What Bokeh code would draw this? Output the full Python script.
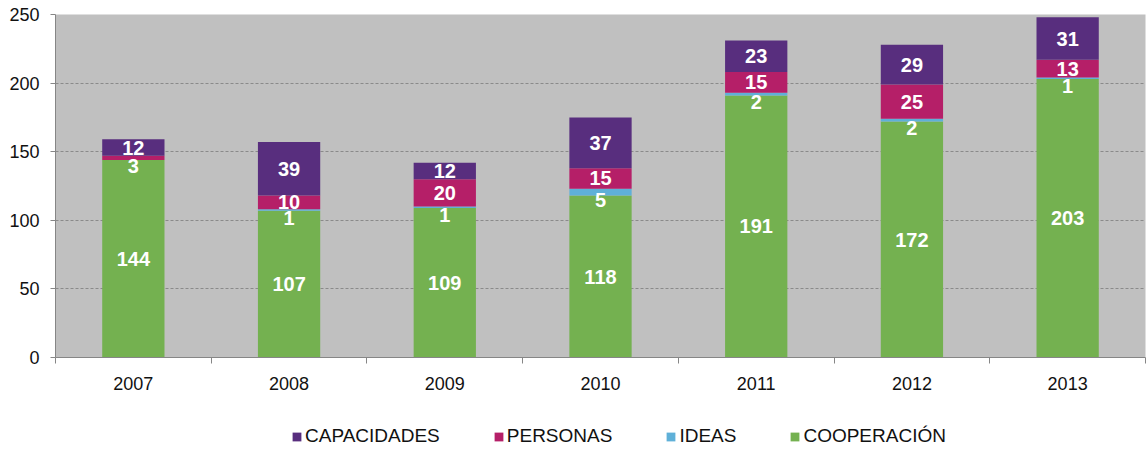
from bokeh.plotting import figure
from bokeh.layouts import column
from bokeh.models import ColumnDataSource, FixedTicker, Legend, LegendItem
from bokeh.core.properties import value
from bokeh.embed import file_html
from bokeh.resources import INLINE

years = ["2007", "2008", "2009", "2010", "2011", "2012", "2013"]
cooperacion = [144, 107, 109, 118, 191, 172, 203]
ideas = [0, 1, 1, 5, 2, 2, 1]
personas = [3, 10, 20, 15, 15, 25, 13]
capacidades = [12, 39, 12, 37, 23, 29, 31]
series_names = ["COOPERACIÓN", "IDEAS", "PERSONAS", "CAPACIDADES"]
series_keys = ["coop", "ideas", "pers", "cap"]
colors = ["#74b150", "#5fb0d8", "#b51f68", "#582e7e"]
y_ticks = [0, 50, 100, 150, 200, 250]

FONT = "Liberation Sans"
xs = list(range(len(years)))

src = ColumnDataSource(dict(x=xs, coop=cooperacion, ideas=ideas, pers=personas, cap=capacidades))

p = figure(width=1147, height=400, x_range=(-0.5, len(years) - 0.5), y_range=(0, 250),
           output_backend="svg", toolbar_location=None,
           min_border_left=55, min_border_right=2, min_border_top=14, min_border_bottom=43)
p.background_fill_color = "#c0c0c0"
p.border_fill_color = "white"
p.outline_line_color = None

renderers = p.vbar_stack(series_keys, x="x", width=0.4, source=src, color=colors, line_color=None)

# data labels
all_vals = [cooperacion, ideas, personas, capacidades]
big = dict(x=[], y=[], t=[])
small = dict(x=[], y=[], t=[])
for i in xs:
    base = 0
    for vals in all_vals:
        v = vals[i]
        if v > 0:
            d = big if v > 5 else small
            d["x"].append(i)
            d["y"].append(base + v / 2)
            d["t"].append(str(v))
        base += v
for d, off in ((big, 0), (small, 8)):
    p.text(x="x", y="y", text="t", source=ColumnDataSource(d), text_color="white",
           text_font=value(FONT), text_font_style="bold", text_font_size="20px",
           text_align="center", text_baseline="middle", y_offset=off)

# axes
p.xgrid.visible = False
p.ygrid.grid_line_color = "#8a8a8a"
p.ygrid.grid_line_dash = "3 2"
p.ygrid.grid_line_width = 1

ya = p.yaxis[0]
ya.ticker = FixedTicker(ticks=y_ticks)
ya.major_tick_in = 0
ya.major_tick_out = 5
ya.minor_tick_out = 0
ya.minor_tick_in = 0
ya.axis_line_color = "#868686"
ya.major_tick_line_color = "#868686"
ya.major_label_text_font = FONT
ya.major_label_text_font_size = "18px"
ya.major_label_text_color = "#111111"
ya.major_label_standoff = 11

xa = p.xaxis[0]
xa.ticker = FixedTicker(ticks=xs, minor_ticks=[i - 0.5 for i in range(len(years) + 1)])
xa.major_label_overrides = {i: years[i] for i in xs}
xa.major_tick_in = 0
xa.major_tick_out = 0
xa.minor_tick_in = 0
xa.minor_tick_out = 6
xa.minor_tick_line_color = "#868686"
xa.axis_line_color = "#868686"
xa.major_label_text_font = FONT
xa.major_label_text_font_size = "18px"
xa.major_label_text_color = "#111111"
xa.major_label_standoff = 13

# legend strip (separate figure under the chart, frames aligned with the chart)
lg = figure(width=1147, height=49, x_range=(0, 1), y_range=(0, 1),
            output_backend="svg", toolbar_location=None,
            x_axis_type=None, y_axis_type=None, min_border=0)
lg.outline_line_color = None
lg.background_fill_color = "white"
nan = float("nan")
lg_rends = [lg.vbar(x=[nan], top=[nan], width=0.1, color=c, line_color=None) for c in colors]

items = [LegendItem(label=series_names[k], renderers=[lg_rends[k]]) for k in (3, 2, 1, 0)]
legend = Legend(items=items, orientation="horizontal", location=(236, 2),
                glyph_width=11, glyph_height=11, label_standoff=3, spacing=53,
                padding=0, margin=0, background_fill_alpha=0, border_line_color=None,
                label_text_font=FONT, label_text_font_size="19px", label_text_color="#111111")
lg.add_layout(legend)

layout = column(p, lg, spacing=0)
open("out.html", "w").write(file_html(layout, INLINE))
